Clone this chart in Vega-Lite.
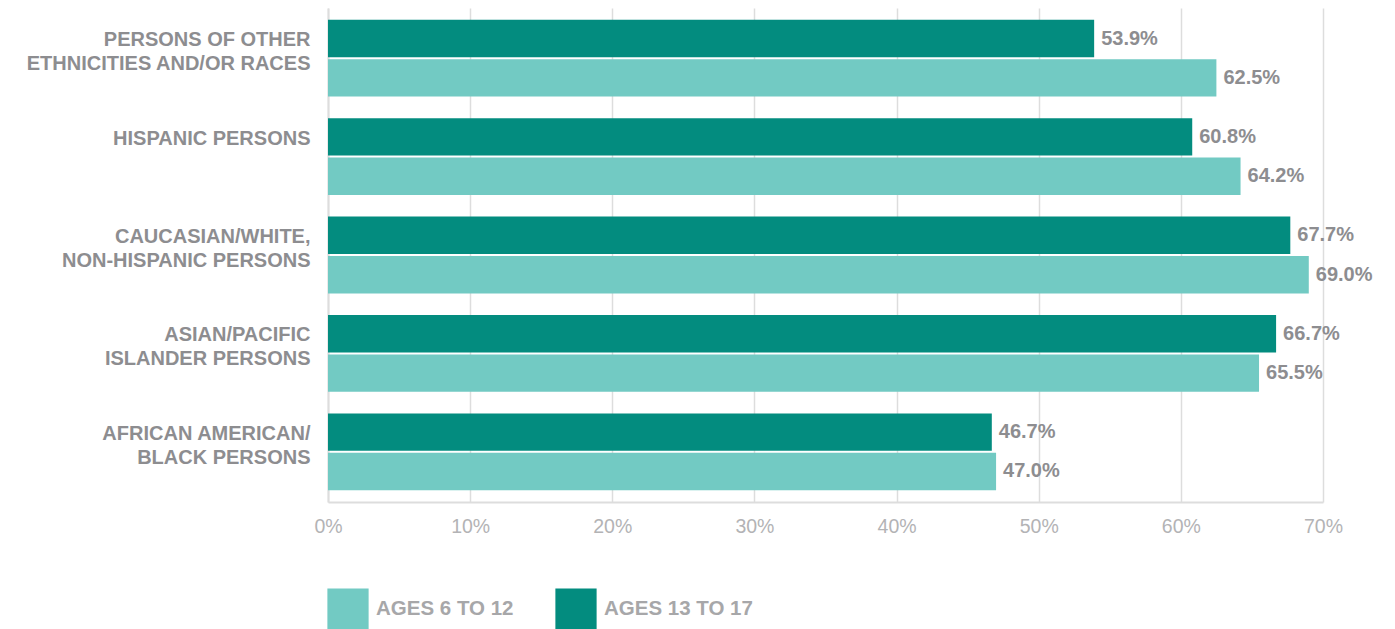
{
  "$schema": "https://vega.github.io/schema/vega-lite/v6.json",
  "autosize": {"type": "none"},
  "width": 995,
  "height": 494,
  "padding": {"left": 328, "top": 8, "right": 72, "bottom": 127},
  "background": "white",
  "config": {
    "font": "Liberation Sans",
    "view": {"stroke": null}
  },
  "data": {
    "values": [
      {"group": "PERSONS OF OTHER |ETHNICITIES AND/OR RACES", "age": "AGES 13 TO 17", "value": 0.539},
      {"group": "PERSONS OF OTHER |ETHNICITIES AND/OR RACES", "age": "AGES 6 TO 12", "value": 0.625},
      {"group": "HISPANIC PERSONS", "age": "AGES 13 TO 17", "value": 0.608},
      {"group": "HISPANIC PERSONS", "age": "AGES 6 TO 12", "value": 0.642},
      {"group": "CAUCASIAN/WHITE, |NON-HISPANIC PERSONS", "age": "AGES 13 TO 17", "value": 0.677},
      {"group": "CAUCASIAN/WHITE, |NON-HISPANIC PERSONS", "age": "AGES 6 TO 12", "value": 0.690},
      {"group": "ASIAN/PACIFIC |ISLANDER PERSONS", "age": "AGES 13 TO 17", "value": 0.667},
      {"group": "ASIAN/PACIFIC |ISLANDER PERSONS", "age": "AGES 6 TO 12", "value": 0.655},
      {"group": "AFRICAN AMERICAN/|BLACK PERSONS", "age": "AGES 13 TO 17", "value": 0.467},
      {"group": "AFRICAN AMERICAN/|BLACK PERSONS", "age": "AGES 6 TO 12", "value": 0.470}
    ]
  },
  "encoding": {
    "y": {
      "field": "group",
      "type": "nominal",
      "sort": null,
      "title": null,
      "scale": {"paddingInner": 0.22, "paddingOuter": 0.12},
      "axis": {
        "labelExpr": "split(datum.label, '|')",
        "labelFontSize": 20,
        "labelFontWeight": "bold",
        "labelColor": "#8d8d90",
        "labelLineHeight": 24,
        "labelPadding": 18,
        "labelOffset": -18,
        "labelLimit": 400,
        "ticks": false,
        "domainColor": "#dddddd",
        "domainWidth": 2
      }
    },
    "yOffset": {
      "field": "age",
      "type": "nominal",
      "sort": ["AGES 13 TO 17", "AGES 6 TO 12"],
      "scale": {"paddingInner": 0.05}
    },
    "x": {
      "field": "value",
      "type": "quantitative",
      "title": null,
      "scale": {"domain": [0, 0.7], "nice": false},
      "axis": {
        "format": ".0%",
        "values": [0, 0.1, 0.2, 0.3, 0.4, 0.5, 0.6, 0.7],
        "grid": true,
        "gridColor": "#dddddd",
        "gridWidth": 1.5,
        "domainColor": "#dddddd",
        "domainWidth": 2,
        "ticks": false,
        "labelFlush": false,
        "labelFontSize": 19.5,
        "labelColor": "#b3b3b5",
        "labelPadding": 15
      }
    }
  },
  "layer": [
    {
      "mark": {"type": "bar"},
      "encoding": {
        "color": {
          "field": "age",
          "type": "nominal",
          "scale": {"domain": ["AGES 6 TO 12", "AGES 13 TO 17"], "range": ["#72cac3", "#038c7f"]},
          "legend": {
            "title": null,
            "orient": "none",
            "direction": "horizontal",
            "legendX": -1,
            "legendY": 580,
            "symbolType": "square",
            "symbolSize": 1700,
            "symbolStrokeWidth": 0,
            "symbolOpacity": 1,
            "labelFontSize": 20.5,
            "labelFontWeight": "bold",
            "labelColor": "#a7a7a9",
            "labelOffset": 7,
            "columnPadding": 41
          }
        }
      }
    },
    {
      "mark": {"type": "text", "align": "left", "dx": 7, "fontSize": 20, "fontWeight": "bold", "color": "#8d8d90"},
      "encoding": {
        "text": {"field": "value", "type": "quantitative", "format": ".1%"}
      }
    }
  ]
}
